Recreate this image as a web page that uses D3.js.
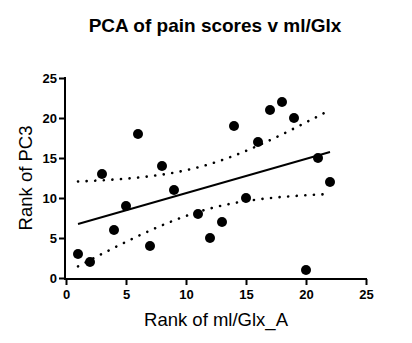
<!DOCTYPE html>
<html><head><meta charset="utf-8">
<script src="https://cdn.jsdelivr.net/npm/d3@7"></script>
<style>body{margin:0;background:#fff}svg{display:block}</style>
</head><body>
<script>
const xRank = [1,2,3,4,5,6,7,8,9,11,12,13,14,15,16,17,18,19,20,21,22];
const yRank = [3,2,13,6,9,18,4,14,11,8,5,7,19,10,17,21,22,20,1,15,12];
const xTicks = [0,5,10,15,20,25];
const yTicks = [0,5,10,15,20,25];
const title = "PCA of pain scores v ml/Glx";
const xTitle = "Rank of ml/Glx_A";
const yTitle = "Rank of PC3";

const W = 412, H = 343;
const svg = d3.select("body").append("svg").attr("width", W).attr("height", H);
const x = d3.scaleLinear().domain([0,25]).range([66,366]);
const y = d3.scaleLinear().domain([0,25]).range([278,78]);
const font = "Arial, 'Liberation Sans', sans-serif";

// regression + 95% CI
const n = xRank.length;
const mx = d3.mean(xRank), my = d3.mean(yRank);
let sxx=0, sxy=0;
for (let i=0;i<n;i++){ sxx+=(xRank[i]-mx)**2; sxy+=(xRank[i]-mx)*(yRank[i]-my); }
const b = sxy/sxx, a = my - b*mx;
let sse=0; for (let i=0;i<n;i++){ sse += (yRank[i]-(a+b*xRank[i]))**2; }
const s = Math.sqrt(sse/(n-2));
const t = 2.093;
const x0 = d3.min(xRank), x1 = d3.max(xRank);
const grid = d3.range(0,101).map(i => x0 + (x1-x0)*i/100);
const band = grid.map(xv => {
  const f = a + b*xv;
  const se = s*Math.sqrt(1/n + (xv-mx)**2/sxx);
  return {x:xv, lo:f - t*se, hi:f + t*se};
});
const line = d3.line().x(d=>x(d[0])).y(d=>y(d[1]));

["lo","hi"].forEach(k=>{
  svg.append("path")
    .attr("d", line(band.map(d=>[d.x,d[k]])))
    .attr("fill","none").attr("stroke","#000").attr("stroke-width",2.6)
    .attr("stroke-linecap","round").attr("stroke-dasharray","0.1 8.5");
});
svg.append("path")
  .attr("d", line([[x0,a+b*x0],[x1,a+b*x1]]))
  .attr("fill","none").attr("stroke","#000").attr("stroke-width",2);

// points
svg.append("g").selectAll("circle").data(xRank.map((v,i)=>[v,yRank[i]]))
  .join("circle").attr("cx",d=>x(d[0])).attr("cy",d=>y(d[1])).attr("r",5).attr("fill","#000");

// axes
const xAxis = d3.axisBottom(x).tickValues(xTicks).tickSize(6).tickSizeOuter(0);
const yAxis = d3.axisLeft(y).tickValues(yTicks).tickSize(6).tickSizeOuter(0);
const gx = svg.append("g").attr("transform","translate(0,279)").call(xAxis);
const gy = svg.append("g").attr("transform","translate(65,0)").call(yAxis);
[gx,gy].forEach(g=>{
  g.select(".domain").attr("stroke","#000").attr("stroke-width",2);
  g.selectAll(".tick line").attr("stroke","#000").attr("stroke-width",2);
  g.selectAll("text").attr("font-family",font).attr("font-weight","bold")
   .attr("font-size",13).attr("fill","#000");
});
gx.select(".domain").attr("d","M65,0H367");
gy.select(".domain").attr("d","M0,77V280");
gx.selectAll("text").attr("dy",null).attr("y",20);
gy.selectAll("text").attr("x",-8);

svg.append("text").attr("x",215).attr("y",32).attr("text-anchor","middle")
  .attr("font-family",font).attr("font-weight","bold").attr("font-size",19).text(title);
svg.append("text").attr("x",216).attr("y",326).attr("text-anchor","middle")
  .attr("font-family",font).attr("font-size",18.5).text(xTitle);
svg.append("text").attr("transform","translate(32,178) rotate(-90)").attr("text-anchor","middle")
  .attr("font-family",font).attr("font-size",18.5).text(yTitle);
</script>
</body></html>
